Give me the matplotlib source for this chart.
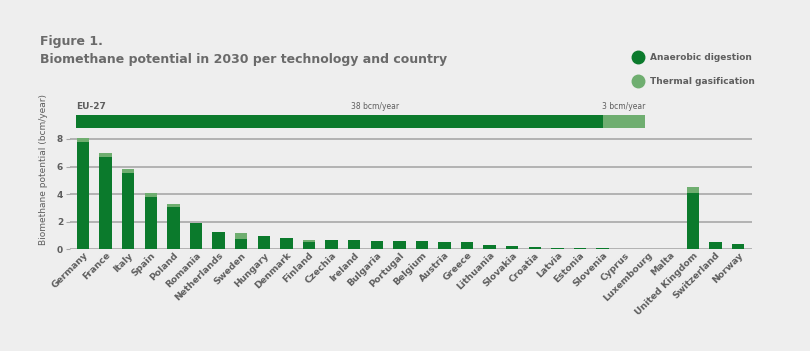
import numpy as np
import matplotlib
matplotlib.use("Agg")
import matplotlib.pyplot as plt
from matplotlib.lines import Line2D

countries = ["Germany", "France", "Italy", "Spain", "Poland", "Romania", "Netherlands",
             "Sweden", "Hungary", "Denmark", "Finland", "Czechia", "Ireland", "Bulgaria",
             "Portugal", "Belgium", "Austria", "Greece", "Lithuania", "Slovakia", "Croatia",
             "Latvia", "Estonia", "Slovenia", "Cyprus", "Luxembourg", "Malta",
             "United Kingdom", "Switzerland", "Norway"]
anaerobic = [7.8, 6.67, 5.5, 3.82, 3.09, 1.88, 1.28, 0.72, 0.99, 0.8, 0.51, 0.68, 0.68,
             0.63, 0.58, 0.6, 0.51, 0.51, 0.34, 0.27, 0.19, 0.12, 0.08, 0.08, 0.03,
             0.02, 0.01, 4.1, 0.56, 0.41]
thermal = [0.29, 0.29, 0.3, 0.28, 0.17, 0.05, 0.0, 0.44, 0.0, 0.0, 0.17, 0.0, 0.0,
           0.0, 0.0, 0.0, 0.0, 0.0, 0.0, 0.0, 0.0, 0.0, 0.0, 0.0, 0.0,
           0.0, 0.0, 0.44, 0.0, 0.0]
eu_anaerobic = 38
eu_thermal = 3

dark = "#0b7a2c"
light = "#6fae70"
grey = "#5e5e5e"
bg = "#eeeeee"

W, H = 810, 351
fig = plt.figure(figsize=(W / 100, H / 100), dpi=100)
fig.patch.set_facecolor(bg)

def fx(px):
    return px / W

def fy(py):
    return 1 - py / H

# main bars
ax = fig.add_axes([fx(70), fy(249.3), fx(751.7 - 70), (249.3 - 134.85) / H])
ax.set_facecolor(bg)
x = np.arange(len(countries))
ax.bar(x, anaerobic, width=0.55, color=dark, zorder=3)
ax.bar(x, thermal, width=0.55, bottom=anaerobic, color=light, zorder=3)
ax.set_xlim(-0.58, len(countries) - 1 + 0.6)
ax.set_ylim(0, 8.3)
ax.set_yticks([0, 2, 4, 6, 8])
ax.yaxis.grid(True, color="#a8a8a8", linewidth=1.2, zorder=0)
for s in ax.spines.values():
    s.set_visible(False)
ax.tick_params(axis="y", length=3, color="#a8a8a8", labelsize=6.5, labelcolor=grey, pad=2)
for t in ax.get_yticklabels():
    t.set_fontweight("bold")
ax.tick_params(axis="x", length=0, pad=1)
ax.set_xticks(x)
ax.set_xticklabels(countries, rotation=45, ha="right", rotation_mode="anchor",
                   fontsize=6.7, color=grey, fontweight="bold")
ax.set_ylabel("Biomethane potential (bcm/year)", fontsize=6.5, color=grey)
ax.yaxis.set_label_coords(-0.033, 0.70)

# EU-27 bar
ax2 = fig.add_axes([fx(76), fy(128), fx(645 - 76), 13 / H])
ax2.barh([0], [eu_anaerobic], height=1, color=dark)
ax2.barh([0], [eu_thermal], left=[eu_anaerobic], height=1, color=light)
ax2.set_xlim(0, eu_anaerobic + eu_thermal)
ax2.set_ylim(-0.5, 0.5)
ax2.axis("off")

fig.text(fx(76), fy(107), "EU-27", fontsize=6.5, color=grey, va="center", ha="left",
         fontweight="bold")
fig.text(fx(375), fy(107), f"{eu_anaerobic} bcm/year", fontsize=5.5, color=grey,
         va="center", ha="center")
fig.text(fx(602), fy(107), f"{eu_thermal} bcm/year", fontsize=5.5, color=grey,
         va="center", ha="left")

# titles
fig.text(fx(40), fy(42), "Figure 1.", fontsize=9, fontweight="bold", color="#6a6a6a",
         va="center", ha="left")
fig.text(fx(40), fy(59), "Biomethane potential in 2030 per technology and country",
         fontsize=9, fontweight="bold", color="#6a6a6a", va="center", ha="left")

# legend
for py, col, lab in [(57, dark, "Anaerobic digestion"), (81, light, "Thermal gasification")]:
    fig.add_artist(Line2D([fx(638)], [fy(py)], marker="o", markersize=9, color=col,
                          transform=fig.transFigure))
    fig.text(fx(650), fy(py), lab, fontsize=6.5, color=grey, va="center", ha="left",
             fontweight="bold")

fig.savefig("out.png", dpi=100, facecolor=bg)
